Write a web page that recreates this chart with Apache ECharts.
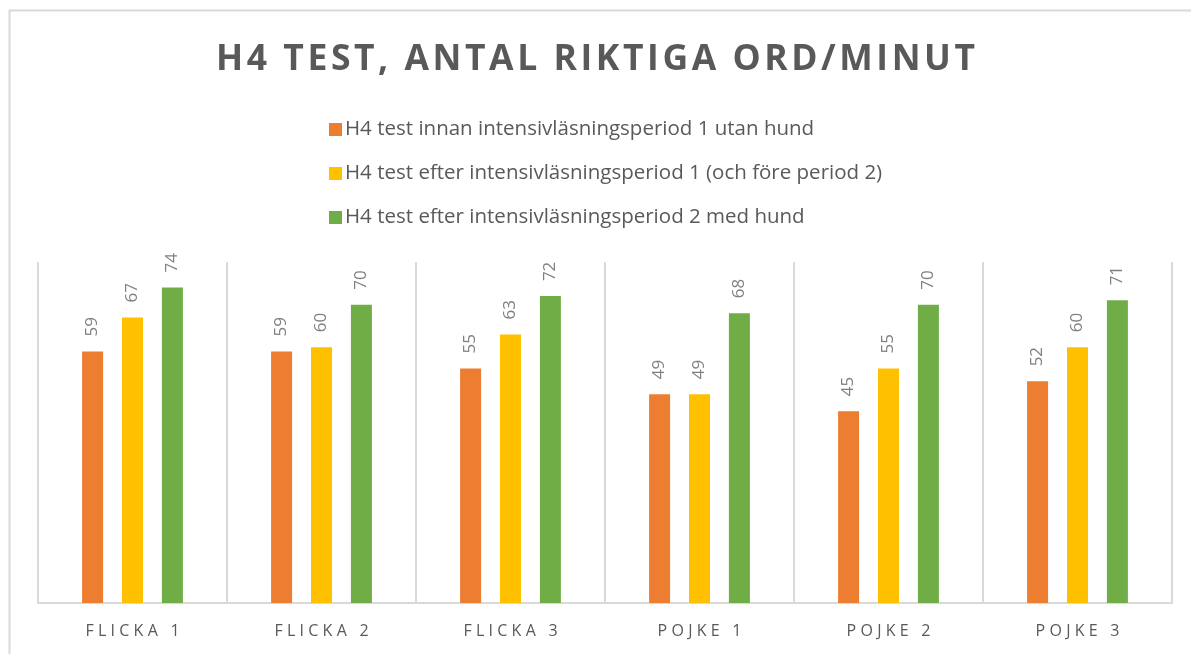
<!DOCTYPE html>
<html>
<head>
<meta charset="utf-8">
<script src="https://cdn.jsdelivr.net/npm/echarts@6/dist/echarts.min.js"></script>
<style>
  html, body { margin: 0; padding: 0; background: #fff; }
  #main { width: 1191px; height: 654px; }
</style>
</head>
<body>
<div id="main"></div>
<script>
// data
var categories = ['FLICKA 1', 'FLICKA 2', 'FLICKA 3', 'POJKE 1', 'POJKE 2', 'POJKE 3'];
var seriesNames = [
  'H4 test innan intensivläsningsperiod 1 utan hund',
  'H4 test efter intensivläsningsperiod 1 (och före period 2)',
  'H4 test efter intensivläsningsperiod 2 med hund'
];
var innan = [59, 59, 55, 49, 45, 52];
var efter1 = [67, 60, 63, 49, 55, 60];
var efter2 = [74, 70, 72, 68, 70, 71];
var colors = ['#ed7d31', '#ffc000', '#70ad47'];

// mellanrum mellan bokstäver
function spaced(s, sep) {
  return s.split('').join(sep);
}

var chart = echarts.init(document.getElementById('main'));

function barSeries(name, data, color) {
  return {
    name: name,
    type: 'bar',
    data: data,
    barWidth: 21,
    barGap: '90%',
    itemStyle: { color: color },
    label: {
      show: true,
      position: 'top',
      distance: 15,
      rotate: 90,
      align: 'left',
      verticalAlign: 'middle',
      color: '#808080',
      fontFamily: 'Open Sans',
      fontSize: 17
    }
  };
}

var option = {
  backgroundColor: '#fff',
  animation: false,
  graphic: [{
    type: 'rect',
    shape: { x: 9.5, y: 10.5, width: 1300, height: 700 },
    style: { fill: 'none', stroke: '#d9d9d9', lineWidth: 2 },
    silent: true
  }],
  title: {
    text: spaced('H4 TEST, ANTAL RIKTIGA ORD/MINUT', '\u200a'),
    left: 'center',
    top: 37,
    textStyle: {
      color: '#595959',
      fontFamily: 'Open Sans',
      fontWeight: 'bold',
      fontSize: 35.5
    }
  },
  legend: {
    orient: 'vertical',
    left: 324,
    top: 111,
    itemWidth: 13,
    itemHeight: 13,
    itemGap: 17,
    icon: 'rect',
    data: seriesNames,
    textStyle: {
      color: '#595959',
      fontFamily: 'Open Sans',
      fontSize: 20.5,
      lineHeight: 27,
      padding: [0, 0, 0, -2]
    }
  },
  grid: { left: 38, right: 19, top: 262, bottom: 51 },
  xAxis: {
    type: 'category',
    data: categories,
    axisLine: { lineStyle: { color: '#d9d9d9', width: 2 } },
    axisTick: { show: false },
    splitLine: { show: true, lineStyle: { color: '#d9d9d9', width: 2 } },
    axisLabel: {
      color: '#595959',
      fontFamily: 'Open Sans',
      fontSize: 16,
      margin: 20,
      formatter: function (v) { return spaced(v, '\u2009\u200a'); }
    }
  },
  yAxis: {
    type: 'value',
    min: 0,
    max: 80,
    show: false
  },
  series: [
    barSeries(seriesNames[0], innan, colors[0]),
    barSeries(seriesNames[1], efter1, colors[1]),
    barSeries(seriesNames[2], efter2, colors[2])
  ]
};

chart.setOption(option);
</script>
</body>
</html>
